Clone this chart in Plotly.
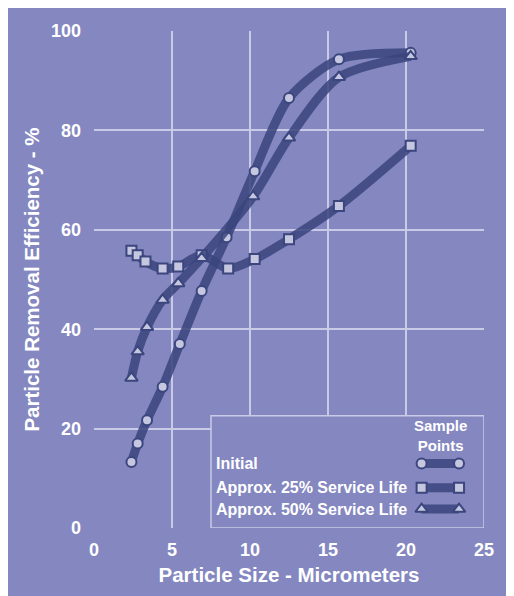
import plotly.graph_objects as go

# particle size (micrometers) and removal efficiency (%)
initial_x = [2.4, 2.8, 3.4, 4.4, 5.5, 6.9, 8.5, 10.3, 12.5, 15.7, 20.3]
initial_y = [13.3, 17.0, 21.7, 28.4, 37.0, 47.7, 58.5, 71.8, 86.5, 94.3, 95.6]

quarter_x = [2.4, 2.8, 3.3, 4.4, 5.4, 6.9, 8.6, 10.3, 12.5, 15.7, 20.3]
quarter_y = [55.8, 54.9, 53.6, 52.2, 52.6, 54.9, 52.2, 54.1, 58.1, 64.8, 76.9]

half_x = [2.4, 2.8, 3.4, 4.4, 5.4, 6.9, 10.2, 12.5, 15.7, 20.3]
half_y = [30.2, 35.5, 40.4, 45.9, 49.2, 54.3, 66.7, 78.5, 90.7, 94.9]

x_ticks = [0, 5, 10, 15, 20, 25]
y_ticks = [0, 20, 40, 60, 80, 100]

legend_names = ["Initial", "Approx. 25% Service Life", "Approx. 50% Service Life"]
legend_symbols = ["circle", "square", "triangle-up"]

BG = "#8487c0"
GRID = "#c9cbe6"
LINE = "rgba(58,68,124,0.85)"
MARK = "#c4c7df"
MARK_EDGE = "#3c467e"
FONT = "Liberation Sans, Arial, sans-serif"

fig = go.Figure()

series = [
    (initial_x, initial_y, "circle", 10),
    (quarter_x, quarter_y, "square", 10),
    (half_x, half_y, "triangle-up", 11),
]
for xs, ys, sym, size in series:
    fig.add_trace(
        go.Scatter(
            x=xs,
            y=ys,
            mode="lines+markers",
            line=dict(color=LINE, width=9, shape="spline", smoothing=0.8),
            marker=dict(
                symbol=sym,
                size=size,
                color=MARK,
                line=dict(color=MARK_EDGE, width=2),
            ),
            showlegend=False,
            hoverinfo="skip",
        )
    )

# hand-made legend box in the lower right of the plot
fig.add_shape(
    type="rect",
    x0=7.5, x1=25, y0=0, y1=22.6,
    fillcolor=BG,
    line=dict(color=GRID, width=1.5),
    layer="between",
)
fig.add_annotation(
    x=22.2, y=18.6, text="Sample<br>Points", showarrow=False,
    font=dict(size=15, color="white", family=FONT, weight="bold"), align="center",
)
legend_y = [13.0, 8.1, 3.8]
for name, sym, ly in zip(legend_names, legend_symbols, legend_y):
    fig.add_annotation(
        x=7.7, y=ly, text=name, showarrow=False, xanchor="left",
        font=dict(size=16, color="white", family=FONT, weight="bold"),
    )
    fig.add_trace(
        go.Scatter(
            x=[21.0, 23.4],
            y=[ly, ly],
            mode="lines+markers",
            line=dict(color=LINE, width=9),
            marker=dict(
                symbol=sym,
                size=11 if sym == "triangle-up" else 10,
                color=MARK,
                line=dict(color=MARK_EDGE, width=2),
            ),
            showlegend=False,
            hoverinfo="skip",
        )
    )

fig.update_layout(
    width=514,
    height=596,
    margin=dict(l=86, r=38, t=23, b=76),
    paper_bgcolor=BG,
    plot_bgcolor=BG,
    font=dict(family=FONT, color="white", size=18, weight="bold"),
    xaxis=dict(
        range=[0, 25],
        tickvals=x_ticks,
        showgrid=True,
        gridcolor=GRID,
        gridwidth=1.5,
        zeroline=False,
        showline=False,
        ticks="",
        ticklabelstandoff=9,
        title=dict(text="Particle Size - Micrometers", font=dict(size=20.5), standoff=8),
    ),
    yaxis=dict(
        range=[0, 100],
        tickvals=y_ticks,
        showgrid=True,
        gridcolor=GRID,
        gridwidth=1.5,
        zeroline=False,
        showline=False,
        ticks="",
        ticklabelstandoff=12,
        title=dict(text="Particle Removal Efficiency - %", font=dict(size=20.5), standoff=5),
    ),
)

fig.write_html("out.html")
